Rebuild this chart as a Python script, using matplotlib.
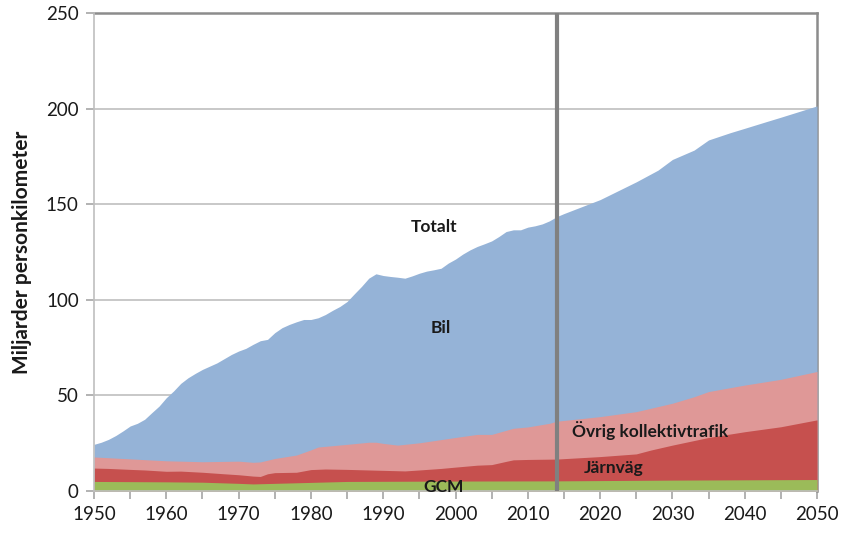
import matplotlib
matplotlib.use("Agg")
import matplotlib.pyplot as plt

plt.rcParams['font.family'] = ['Lato', 'DejaVu Sans']

# ---- data (cumulative tops of each stacked band, miljarder personkilometer) ----
total_years = list(range(1950, 2015)) + [2015, 2020, 2025, 2028, 2030, 2033, 2035, 2038, 2040, 2043, 2045, 2050]
totalt = [24.4, 25.5, 27.0, 29.0, 31.4, 34.0, 35.4, 37.5, 41.0, 44.4,
          48.8, 52.3, 56.3, 59.2, 61.5, 63.6, 65.3, 67.0, 69.2, 71.4,
          73.2, 74.6, 76.7, 78.6, 79.3, 82.8, 85.4, 87.1, 88.5, 89.7,
          89.7, 90.6, 92.3, 94.5, 96.5, 99.1, 103.1, 107.0, 111.3, 113.6,
          112.7, 112.2, 111.8, 111.3, 112.5, 113.9, 115.0, 115.7, 116.5, 119.2,
          121.3, 123.9, 126.1, 127.9, 129.3, 130.8, 133.1, 135.7, 136.6, 136.6,
          138.0, 138.7, 139.7, 141.3, 143.5,
          145.1, 152.4, 161.7, 167.8, 173.4, 178.3, 183.6, 187.4, 189.7, 193.2, 195.5, 201.4]

kollektiv_years = [1950, 1953, 1955, 1958, 1960, 1965, 1970, 1972, 1973, 1975, 1978, 1980, 1981,
                   1983, 1985, 1988, 1989, 1990, 1992, 1995, 2000, 2003, 2005, 2008, 2010, 2013,
                   2014, 2020, 2025, 2030, 2033, 2035, 2040, 2045, 2050]
ovrig_top = [17.8, 17.2, 16.8, 16.2, 15.8, 15.3, 15.6, 15.0, 15.2, 17.0, 18.8, 21.5, 23.0,
             23.7, 24.4, 25.5, 25.5, 24.9, 24.0, 25.2, 28.0, 29.6, 29.6, 32.8, 33.5, 35.4,
             36.5, 38.9, 41.5, 45.9, 49.3, 52.0, 55.4, 58.4, 62.5]

jarnvag_years = [1950, 1952, 1955, 1957, 1960, 1962, 1965, 1968, 1970, 1972, 1973, 1974, 1975,
                 1978, 1980, 1982, 1985, 1990, 1993, 1995, 1998, 2000, 2003, 2005, 2007, 2008,
                 2010, 2014, 2020, 2025, 2027, 2030, 2035, 2040, 2045, 2050]
jarnvag_top = [12.0, 11.8, 11.3, 11.0, 10.3, 10.4, 9.8, 9.0, 8.5, 7.8, 7.6, 9.0, 9.6,
               9.8, 11.2, 11.5, 11.3, 10.8, 10.5, 11.0, 11.8, 12.5, 13.5, 13.8, 15.5, 16.3,
               16.5, 16.7, 18.0, 19.4, 21.4, 24.0, 28.0, 31.0, 33.6, 37.2]

gcm_years = [1950, 1960, 1965, 1970, 1972, 1975, 1980, 1985, 2000, 2014, 2030, 2050]
gcm_top = [5.0, 4.8, 4.6, 4.0, 3.7, 4.0, 4.5, 5.0, 5.2, 5.3, 5.7, 6.0]

band_labels = ["Totalt", "Bil", "Övrig kollektivtrafik", "Järnväg", "GCM"]
label_pos_year = [1997, 1998, 2026.9, 2021.9, 1998.4]
label_pos_val = [138, 85.5, 31.9, 11.9, 2.3]

split_year = 2014
y_ticks = [0, 50, 100, 150, 200, 250]
x_ticks = [1950, 1960, 1970, 1980, 1990, 2000, 2010, 2020, 2030, 2040, 2050]

# ---- figure ----
fig = plt.figure(figsize=(8.46, 5.35), dpi=100)
ax = fig.add_axes([94 / 846, 1 - 491 / 535, (817 - 94) / 846, (491 - 13) / 535])

c_bil = "#95B3D7"
c_ovrig = "#DF9897"
c_jarn = "#C6504E"
c_gcm = "#9BBB59"

ax.fill_between(total_years, 0, totalt, color=c_bil, lw=0, zorder=1)
ax.fill_between(kollektiv_years, 0, ovrig_top, color=c_ovrig, lw=0, zorder=1.1)
ax.fill_between(jarnvag_years, 0, jarnvag_top, color=c_jarn, lw=0, zorder=1.2)
ax.fill_between(gcm_years, 0, gcm_top, color=c_gcm, lw=0, zorder=1.3)

ax.axvline(split_year, color="#808080", lw=3, zorder=3)

ax.set_xlim(1950, 2050)
ax.set_ylim(0, 250)
ax.set_yticks(y_ticks)
ax.set_xticks(x_ticks)
ax.set_xticks(list(range(1950, 2051, 5)), minor=True)
ax.grid(axis="y", color="#BFBFBF", lw=1.2)
ax.set_axisbelow(True)

for side in ["left", "bottom"]:
    ax.spines[side].set_color("#BFBFBF")
    ax.spines[side].set_linewidth(1.2)
for side in ["top", "right"]:
    ax.spines[side].set_color("#8C8C8C")
    ax.spines[side].set_linewidth(1.8)
    ax.spines[side].set_zorder(0.6)

ax.tick_params(axis="both", which="both", colors="#A6A6A6", direction="out", length=6, width=1.2)
ax.tick_params(axis="both", labelcolor="#1a1a1a", labelsize=13.5, pad=5)

ax.set_ylabel("Miljarder personkilometer", fontsize=15, fontweight="bold", color="#1a1a1a", labelpad=10)

for lab, xv, yv in zip(band_labels, label_pos_year, label_pos_val):
    ax.text(xv, yv, lab, ha="center", va="center", fontsize=12.5, fontweight="bold",
            color="#1a1a1a", zorder=5)

fig.savefig("out.png", dpi=100)
